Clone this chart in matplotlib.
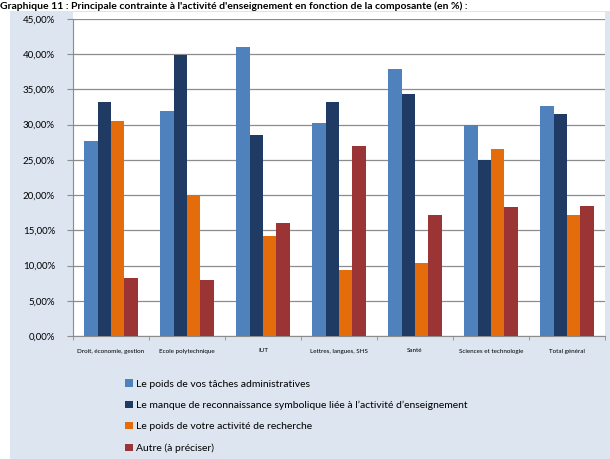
import numpy as np
import matplotlib
matplotlib.use("Agg")
import matplotlib.pyplot as plt
from matplotlib.patches import Rectangle
from matplotlib.ticker import FuncFormatter

plt.rcParams['font.family'] = ['Lato', 'DejaVu Sans']

title = "Graphique 11 : Principale contrainte à l'activité d'enseignement en fonction de la composante (en %) :"
categories = ["Droit, économie, gestion", "Ecole polytechnique", "IUT",
              "Lettres, langues, SHS", "Santé", "Sciences et technologie", "Total général"]
series_names = ["Le poids de vos tâches administratives",
                "Le manque de reconnaissance symbolique liée à l\u2019activité d\u2019enseignement",
                "Le poids de votre activité de recherche",
                "Autre (à préciser)"]
admin = [27.7, 31.9, 41.0, 30.2, 37.9, 29.9, 32.7]
reconnaissance = [33.2, 39.9, 28.5, 33.2, 34.4, 25.0, 31.5]
recherche = [30.5, 20.0, 14.2, 9.3, 10.3, 26.6, 17.2]
autre = [8.2, 7.9, 16.0, 27.0, 17.2, 18.3, 18.5]
colors = ["#4f81bd", "#1f3b63", "#e46c0a", "#9b3434"]

bg = "#dce5f0"
fig = plt.figure(figsize=(6.1, 4.59), dpi=100)
fig.patch.set_facecolor("white")
# light blue chart frame, kept behind the axes
fig.add_artist(Rectangle((10 / 610, 0), 1, 1 - 11 / 459, transform=fig.transFigure,
                         facecolor=bg, edgecolor="none", zorder=-5))
# white plot-area margin above the top gridline
fig.add_artist(Rectangle((73 / 610, 1 - 20 / 459), 532 / 610, 8 / 459, transform=fig.transFigure,
                         facecolor="white", edgecolor="none", zorder=-4))
fig.text(0.0, 1 - 1 / 459, title, fontsize=7.5, fontweight="bold", va="top", ha="left")

ax = fig.add_axes([73 / 610, 1 - 336 / 459, 532 / 610, 317 / 459])
ax.set_zorder(2)
ax.set_facecolor("white")

x = np.arange(len(categories))
w = 0.175
data = [admin, reconnaissance, recherche, autre]
for i, (vals, c, name) in enumerate(zip(data, colors, series_names)):
    ax.bar(x + (i - 1.5) * w, vals, width=w, color=c, label=name, zorder=3)

ax.set_xlim(-0.5, len(categories) - 0.5)
ax.set_ylim(0, 45)
ax.set_yticks(np.arange(0, 46, 5))
ax.yaxis.set_major_formatter(FuncFormatter(lambda v, p: ("%.2f%%" % v).replace(".", ",")))
ax.grid(axis="y", color="#8c8c8c", linewidth=0.9, zorder=0)
ax.tick_params(axis="y", labelsize=7, length=4, color="#8c8c8c", pad=9)

ax.set_xticks(x)
ax.set_xticklabels(categories, fontsize=4.5)
ax.set_xticks(np.arange(-0.5, len(categories)), minor=True)
ax.tick_params(axis="x", which="major", length=0, pad=9)
ax.tick_params(axis="x", which="minor", length=3, color="#8c8c8c")

for s in ["top", "right"]:
    ax.spines[s].set_visible(False)
for s in ["left", "bottom"]:
    ax.spines[s].set_color("#8c8c8c")

handles, labels = ax.get_legend_handles_labels()
leg = fig.legend(handles, labels, loc="upper left", bbox_to_anchor=(116 / 610, 1 - 370 / 459),
                 frameon=False, fontsize=7.5, handlelength=0.7, handleheight=0.7,
                 handletextpad=0.3, labelspacing=1.15)
leg.set_zorder(3)

fig.savefig("out.png", dpi=100, facecolor=fig.get_facecolor())
